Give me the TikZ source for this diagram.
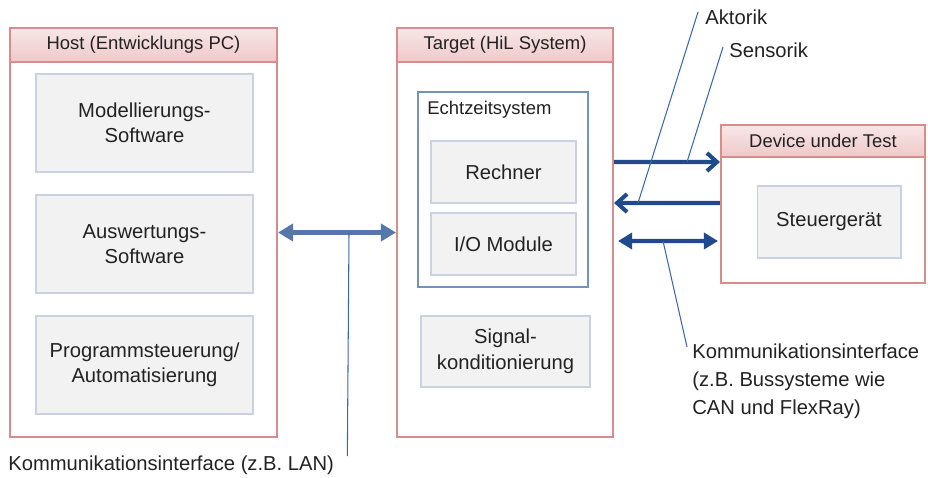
\documentclass[tikz,border=0pt]{standalone}
\usepackage{fontspec}
\setmainfont{Liberation Sans}
\usetikzlibrary{arrows.meta}
\definecolor{rahmen}{HTML}{D98C8C}
\definecolor{kopf}{HTML}{EFC9C9}
\definecolor{kasten}{HTML}{F2F2F2}
\definecolor{kastenrand}{HTML}{C9D1E2}
\definecolor{echtrand}{HTML}{7393BB}
\definecolor{lanblau}{HTML}{5577AA}
\definecolor{dutblau}{HTML}{1F4B8C}
\definecolor{hinweis}{HTML}{3D68A8}
\definecolor{schrift}{HTML}{222222}

\begin{document}
\begin{tikzpicture}[x=0.02cm,y=-0.02cm,
  outer/.style={draw=rahmen,line width=1.2pt,fill=white},
  kopfbox/.style={draw=rahmen,line width=1.2pt,top color=kopf!45!white,bottom color=kopf,
    text=schrift,font=\fontsize{10.5}{13}\selectfont},
  box/.style={draw=kastenrand,line width=0.6pt,fill=kasten,text=schrift,align=center,
    font=\fontsize{11.5}{14.5}\selectfont},
  label/.style={inner sep=0pt,text=schrift,font=\fontsize{11.5}{16}\selectfont,align=left},
  lanpfeil/.style={draw=lanblau,line width=2.3pt,{Triangle[length=0.3cm,width=0.34cm]}-{Triangle[length=0.3cm,width=0.34cm]}},
  dutpfeil/.style={draw=dutblau,line width=2.3pt},
  hinweislinie/.style={draw=hinweis,line width=0.6pt}]
  \useasboundingbox (0,0) rectangle (928,477);

  \node[outer,minimum width=5.34cm,minimum height=8.18cm] (host) at (143.5,232.5) {};
  \node[kopfbox,minimum width=5.34cm,minimum height=0.68cm] (hostkopf) at (143.5,45) {Host (Entwicklungs PC)};
  \node[box,minimum width=4.34cm,minimum height=1.96cm] (modell) at (144.5,123) {Modellierungs-\\Software};
  \node[box,minimum width=4.34cm,minimum height=1.96cm] (auswert) at (144.5,244) {Auswertungs-\\Software};
  \node[box,minimum width=4.34cm,minimum height=1.96cm] (programm) at (144.5,365) {Programmsteuerung/\\Automatisierung};

  \node[outer,minimum width=4.32cm,minimum height=8.18cm] (target) at (505,232.5) {};
  \node[kopfbox,minimum width=4.32cm,minimum height=0.68cm] (targetkopf) at (505,45) {Target (HiL System)};
  \node[draw=echtrand,line width=1.2pt,minimum width=3.40cm,minimum height=3.90cm] (echtzeit) at (503,189.5) {};
  \node[label,font=\fontsize{10.5}{13}\selectfont,anchor=west] (echtzeitlabel) at (427,110) {Echtzeitsystem};
  \node[box,minimum width=2.90cm,minimum height=1.24cm] (rechner) at (503.5,172) {Rechner};
  \node[box,minimum width=2.90cm,minimum height=1.24cm] (iomodul) at (503.5,244) {I/O Module};
  \node[box,minimum width=3.38cm,minimum height=1.42cm] (signal) at (505.5,351.5) {Signal-\\konditionierung};

  \node[outer,minimum width=4.08cm,minimum height=3.16cm] (dut) at (823,204) {};
  \node[kopfbox,minimum width=4.08cm,minimum height=0.64cm] (dutkopf) at (823,141) {Device under Test};
  \node[box,minimum width=2.88cm,minimum height=1.44cm] (steuer) at (829,222) {Steuergerät};

  \draw[lanpfeil] (host.east) -- (target.west);
  \draw[dutpfeil,-{Straight Barb[length=0.2cm,width=0.36cm]}] ([yshift=1.41cm]target.east) -- ([yshift=0.84cm]dut.west);
  \draw[dutpfeil,-{Straight Barb[length=0.2cm,width=0.36cm]}] ([yshift=0.02cm]dut.west) -- ([yshift=0.59cm]target.east);
  \draw[dutpfeil,{Triangle[length=0.28cm,width=0.32cm]}-{Triangle[length=0.28cm,width=0.32cm]}]
    ([shift={(0.08cm,-0.17cm)}]target.east) -- ([shift={(-0.04cm,-0.74cm)}]dut.west);

  \node[label,anchor=west] (lan) at (8,465) {Kommunikationsinterface (z.B. LAN)};
  \node[label,anchor=west] (aktorik) at (705,17) {Aktorik};
  \node[label,anchor=west] (sensorik) at (729,50) {Sensorik};
  \node[label,anchor=north west] (bus) at (692,343) {Kommunikationsinterface\\(z.B. Bussysteme wie\\CAN und FlexRay)};

  \coordinate (lanfuss) at (349,233);
  \coordinate (akfuss) at (638,203);
  \coordinate (senfuss) at (687,162);
  \coordinate (busfuss) at (663,241);
  \draw[hinweislinie] (lanfuss) -- ([xshift=0.26cm,yshift=0.18cm]lan.east);
  \draw[hinweislinie] (akfuss) -- ([xshift=-0.14cm,yshift=0.1cm]aktorik.west);
  \draw[hinweislinie] (senfuss) -- ([xshift=-0.12cm,yshift=0.06cm]sensorik.west);
  \draw[hinweislinie] (busfuss) -- ([xshift=-0.1cm,yshift=-0.08cm]bus.north west);
\end{tikzpicture}
\end{document}
